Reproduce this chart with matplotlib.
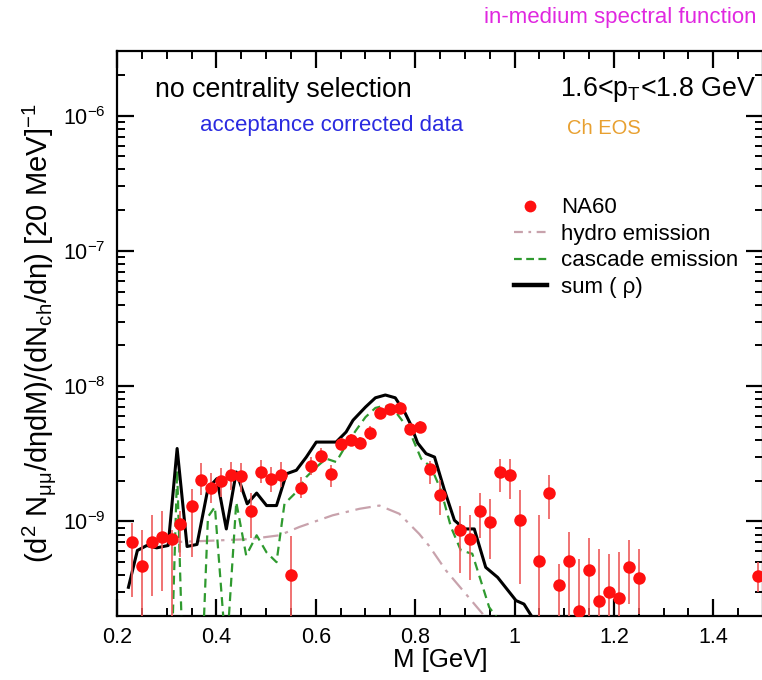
import matplotlib
matplotlib.use("Agg")
import matplotlib.pyplot as plt
from matplotlib.lines import Line2D
from matplotlib.ticker import MultipleLocator, FixedLocator, LogLocator, NullFormatter, LogFormatterMathtext
import numpy as np

plt.rcParams['font.family'] = ['Liberation Sans', 'DejaVu Sans']
plt.rcParams['mathtext.fontset'] = 'custom'
plt.rcParams['mathtext.rm'] = 'Liberation Sans'
plt.rcParams['mathtext.it'] = 'Liberation Sans:italic'
plt.rcParams['mathtext.bf'] = 'Liberation Sans:bold'

# ---------------- data ----------------
na60_m = [0.23, 0.25, 0.27, 0.29, 0.31, 0.327, 0.35, 0.37, 0.39, 0.41, 0.43, 0.45, 0.47,
          0.49, 0.51, 0.53, 0.55, 0.57, 0.59, 0.61, 0.63, 0.65, 0.67, 0.69, 0.71, 0.73,
          0.75, 0.77, 0.79, 0.81, 0.83, 0.85, 0.89, 0.91, 0.93, 0.95, 0.97, 0.99, 1.01,
          1.05, 1.07, 1.09, 1.11, 1.13, 1.15, 1.17, 1.19, 1.21, 1.23, 1.25, 1.49]
na60_y = [7.0e-10, 4.65e-10, 7.0e-10, 7.65e-10, 7.36e-10, 9.5e-10, 1.31e-9, 2.04e-9, 1.78e-9,
          1.98e-9, 2.19e-9, 2.16e-9, 1.19e-9, 2.32e-9, 2.07e-9, 2.19e-9, 4.03e-10, 1.78e-9,
          2.55e-9, 3.03e-9, 2.25e-9, 3.72e-9, 4.03e-9, 3.80e-9, 4.51e-9, 6.3e-9, 6.75e-9,
          6.9e-9, 4.86e-9, 5.0e-9, 2.45e-9, 1.58e-9, 8.6e-10, 7.36e-10, 1.19e-9, 9.9e-10,
          2.3e-9, 2.22e-9, 1.02e-9, 5.14e-10, 1.62e-9, 3.4e-10, 5.14e-10, 2.19e-10, 4.41e-10,
          2.6e-10, 2.99e-10, 2.74e-10, 4.58e-10, 3.83e-10, 3.94e-10]
na60_hi = [9.7e-10, 8.6e-10, 1.11e-9, 1.2e-9, 8.7e-10, 1.2e-9, 1.75e-9, 2.69e-9, 2.27e-9,
           2.47e-9, 2.74e-9, 2.69e-9, 1.61e-9, 2.83e-9, 2.51e-9, 2.74e-9, 7.87e-10, 2.12e-9,
           2.98e-9, 3.47e-9, 2.6e-9, 4.12e-9, 4.46e-9, 4.2e-9, 5.08e-9, 7.0e-9, 7.4e-9,
           7.6e-9, 5.3e-9, 5.5e-9, 2.82e-9, 2.01e-9, 1.31e-9, 1.11e-9, 1.61e-9, 1.46e-9,
           2.91e-9, 2.91e-9, 1.70e-9, 1.11e-9, 2.2e-9, 4.86e-10, 8.3e-10, 5.3e-10, 7.5e-10,
           6.3e-10, 5.77e-10, 5.9e-10, 7.26e-10, 6.28e-10, 5.0e-10]
na60_lo = [2.75e-10, 1.5e-10, 2.83e-10, 3.08e-10, 1.5e-10, 5.45e-10, 5.45e-10, 1.56e-9, 1.36e-9,
           1.51e-9, 1.70e-9, 1.64e-9, 7.6e-10, 1.91e-9, 1.64e-9, 1.79e-9, 1.5e-10, 1.48e-9,
           2.19e-9, 2.69e-9, 1.79e-9, 3.36e-9, 3.64e-9, 3.44e-9, 4.0e-9, 5.7e-9, 6.1e-9,
           6.3e-9, 4.45e-9, 4.6e-9, 1.9e-9, 1.11e-9, 4.19e-10, 3.66e-10, 7.6e-10, 5.26e-10,
           1.66e-9, 1.47e-9, 3.47e-10, 1.5e-10, 1.05e-9, 1.5e-10, 1.5e-10, 1.5e-10, 1.5e-10,
           1.5e-10, 1.5e-10, 1.5e-10, 2.44e-10, 2.07e-10, 3.0e-10]

sum_m = [0.223, 0.241, 0.260, 0.280, 0.303, 0.321, 0.341, 0.361, 0.383, 0.401, 0.420, 0.440,
         0.462, 0.481, 0.501, 0.521, 0.541, 0.561, 0.581, 0.601, 0.621, 0.641, 0.661, 0.675,
         0.70, 0.72, 0.74, 0.76, 0.78, 0.79, 0.805, 0.822, 0.839, 0.859, 0.879, 0.899, 0.919,
         0.942, 0.966, 1.003, 1.019, 1.036, 1.06]
sum_y = [3.26e-10, 6.1e-10, 6.64e-10, 6.38e-10, 6.64e-10, 3.46e-9, 6.53e-10, 6.76e-10, 1.75e-9,
         2.07e-9, 8.8e-10, 2.32e-9, 1.35e-9, 1.62e-9, 1.31e-9, 1.31e-9, 2.25e-9, 2.39e-9,
         2.99e-9, 3.86e-9, 3.86e-9, 3.86e-9, 4.58e-9, 5.6e-9, 7.0e-9, 8.2e-9, 8.6e-9, 8.2e-9,
         6.3e-9, 5.3e-9, 3.8e-9, 3.17e-9, 2.99e-9, 1.70e-9, 1.02e-9, 8.8e-10, 8.8e-10,
         4.58e-10, 3.86e-10, 2.6e-10, 2.45e-10, 1.95e-10, 1.2e-10]

casc_m = [0.31, 0.321, 0.332, 0.372, 0.383, 0.397, 0.42, 0.440, 0.460, 0.481, 0.501, 0.521,
          0.537, 0.561, 0.581, 0.601, 0.621, 0.641, 0.661, 0.681, 0.70, 0.72, 0.74, 0.76,
          0.78, 0.792, 0.812, 0.832, 0.852, 0.872, 0.892, 0.915, 0.932, 0.949, 0.969]
casc_y = [1.0e-10, 2.39e-9, 1.0e-10, 1.0e-10, 1.08e-9, 1.28e-9, 1.0e-10, 1.39e-9, 5.6e-10,
          7.9e-10, 5.9e-10, 5.0e-10, 1.35e-9, 1.65e-9, 2.13e-9, 2.52e-9, 2.91e-9, 2.75e-9,
          3.66e-9, 4.72e-9, 5.9e-9, 6.9e-9, 7.2e-9, 6.5e-9, 5.2e-9, 4.34e-9, 2.91e-9, 2.52e-9,
          1.70e-9, 9.1e-10, 6.1e-10, 5.77e-10, 3.66e-10, 2.32e-10, 1.85e-10]

hydro_m = [0.30, 0.387, 0.467, 0.527, 0.567, 0.634, 0.688, 0.728, 0.768, 0.808, 0.828, 0.862,
           0.902, 0.936, 0.96]
hydro_y = [7.0e-10, 7.2e-10, 7.4e-10, 7.9e-10, 9.1e-10, 1.11e-9, 1.24e-9, 1.31e-9, 1.14e-9,
           8.1e-10, 6.6e-10, 4.34e-10, 2.91e-10, 2.07e-10, 1.5e-10]

x_ticks = [0.2, 0.4, 0.6, 0.8, 1.0, 1.2, 1.4]
x_labels = ['0.2', '0.4', '0.6', '0.8', '1', '1.2', '1.4']
y_ticks = [1e-9, 1e-8, 1e-7, 1e-6]

# ---------------- figure ----------------
W, H = 762, 680
fig = plt.figure(figsize=(W / 100, H / 100), dpi=100)
ax = fig.add_axes([117 / W, 1 - 616 / H, 646 / W, 565 / H])

ax.set_yscale('log')
ax.set_xlim(0.2, 1.5)
ax.set_ylim(2e-10, 3e-6)

green = '#2f9a2f'
hydro_c = '#c8a2ac'
err_c = '#ee5a5a'

ax.plot(hydro_m, hydro_y, color=hydro_c, lw=1.6, dashes=[7, 3, 1.5, 3], zorder=2)
ax.plot(casc_m, casc_y, color=green, lw=1.6, dashes=[4, 2.5], zorder=3)
ax.plot(sum_m, sum_y, color='black', lw=2.2, zorder=4)

y = np.array(na60_y)
yerr = [y - np.array(na60_lo), np.array(na60_hi) - y]
ax.errorbar(na60_m, na60_y, yerr=yerr, fmt='none', ecolor=err_c, elinewidth=1.2, capsize=0, zorder=5)
ax.plot(na60_m, na60_y, 'o', color='#ff1010', markersize=9, markeredgewidth=0, zorder=6)

# ticks
ax.xaxis.set_major_locator(FixedLocator(x_ticks))
ax.set_xticklabels(x_labels)
ax.xaxis.set_minor_locator(MultipleLocator(0.05))
ax.yaxis.set_major_locator(FixedLocator(y_ticks))
ax.yaxis.set_major_formatter(LogFormatterMathtext())
ax.yaxis.set_minor_locator(LogLocator(base=10, subs=np.arange(2, 10), numticks=20))
ax.yaxis.set_minor_formatter(NullFormatter())
ax.tick_params(which='both', direction='in', top=True, right=True, colors='black')
ax.tick_params(which='major', length=12, width=1.6, labelsize=15.5, pad=8)
ax.tick_params(which='minor', length=6, width=1.4)
for s in ax.spines.values():
    s.set_linewidth(1.6)

ax.set_xlabel('M [GeV]', fontsize=18.5, labelpad=0)
ax.set_ylabel(r'(d$^2$ N$_{\mathrm{μμ}}$/dηdM)/(dN$_{\mathrm{ch}}$/dη) [20 MeV]$^{-1}$',
              fontsize=21, labelpad=4)

# legend
handles = [
    Line2D([], [], ls='none', marker='o', color='#ff1010', markersize=8.5, markeredgewidth=0),
    Line2D([], [], color=hydro_c, lw=1.6, dashes=[4, 2.5, 1.2, 2.5]),
    Line2D([], [], color=green, lw=1.6, dashes=[3.5, 2]),
    Line2D([], [], color='black', lw=3.2),
]
labels = ['NA60', 'hydro emission', 'cascade emission', r'sum ( ρ)']
ax.legend(handles, labels, loc='upper left', bbox_to_anchor=(0.614, 0.741), frameon=False,
          fontsize=16, handlelength=1.5, handletextpad=0.65, labelspacing=0.25,
          borderpad=0, borderaxespad=0)

# annotations
fig.text(757 / W, 1 - 18 / H, 'in-medium spectral function', color='#e028e0', fontsize=16,
         ha='right', va='center')
fig.text(155 / W, 1 - 90 / H, 'no centrality selection', color='black', fontsize=19.3,
         ha='left', va='center')
fig.text(200 / W, 1 - 125 / H, 'acceptance corrected data', color='#2a2ae0', fontsize=16,
         ha='left', va='center')
fig.text(560 / W, 1 - 90 / H, r'1.6<p$_\mathrm{T}$<1.8 GeV', color='black', fontsize=19.3,
         ha='left', va='center')
fig.text(567 / W, 1 - 128 / H, 'Ch EOS', color='#e8a030', fontsize=14.5,
         ha='left', va='center')

fig.savefig('out.png', dpi=100)
